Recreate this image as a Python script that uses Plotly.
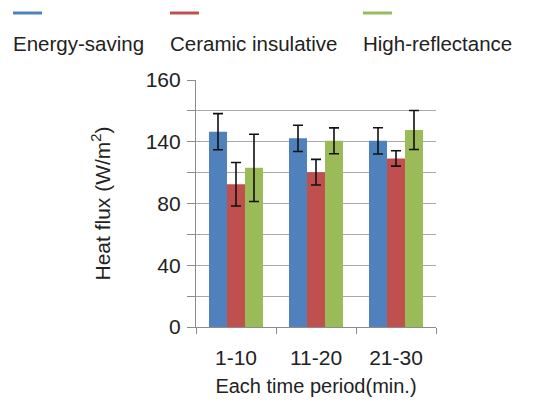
import plotly.graph_objects as go

categories = ["1-10", "11-20", "21-30"]
series_names = ["Energy-saving", "Ceramic insulative", "High-reflectance"]
energy_saving = [126.5, 122.2, 120.6]
ceramic_insulative = [92.5, 100.3, 109.2]
high_reflectance = [103.1, 120.6, 127.6]
energy_saving_err = [11.7, 8.5, 8.5]
ceramic_insulative_err = [14.1, 8.3, 5.0]
high_reflectance_err = [21.8, 8.4, 12.6]
y_tick_values = [0, 20, 40, 60, 80, 100, 120, 140, 160]
y_tick_labels = ["0", "", "40", "", "80", "", "140", "", "160"]

colors = ["#4F81BD", "#C0504D", "#9BBB59"]
values = [energy_saving, ceramic_insulative, high_reflectance]
errors = [energy_saving_err, ceramic_insulative_err, high_reflectance_err]
FONT = "Liberation Sans, Arial, sans-serif"

W, H = 546, 406
ML, MR, MT, MB = 196, 110, 80, 79
PW, PH = W - ML - MR, H - MT - MB


def px_x(p):
    return (p - ML) / PW


def px_y(p):
    return (H - MB - p) / PH


fig = go.Figure()
for name, vals, errs, col in zip(series_names, values, errors, colors):
    fig.add_trace(go.Bar(
        x=categories, y=vals, name=name, marker_color=col, marker_line_width=0,
        error_y=dict(type="data", array=errs, visible=True, color="#111111",
                     thickness=1.6, width=5),
        showlegend=False,
    ))

# Legend drawn as a swatch line above each label
legend_left_px = [13, 170, 363]
for name, col, lx in zip(series_names, colors, legend_left_px):
    fig.add_shape(type="line", xref="paper", yref="paper",
                  x0=px_x(lx), x1=px_x(lx + 29), y0=px_y(13), y1=px_y(13),
                  line=dict(color=col, width=3))
    fig.add_annotation(text=name, xref="paper", yref="paper",
                       x=px_x(lx - 2), y=px_y(43),
                       xanchor="left", yanchor="middle", showarrow=False,
                       font=dict(size=20.5, color="#222222", family=FONT))

fig.update_layout(
    width=W, height=H,
    margin=dict(l=ML, r=MR, t=MT, b=MB, autoexpand=False),
    paper_bgcolor="white", plot_bgcolor="white",
    barmode="group", bargap=0.325, bargroupgap=0,
    font=dict(family=FONT, color="#222222", size=20),
)
fig.update_xaxes(
    showline=True, linecolor="#8c8c8c", linewidth=1.2,
    ticks="outside", tickson="boundaries", ticklen=6, tickcolor="#8c8c8c",
    showgrid=False, tickfont=dict(size=21), automargin=False,
    ticklabelstandoff=12,
    title=dict(text="Each time period(min.)", font=dict(size=20), standoff=10),
)
fig.update_yaxes(
    range=[0, 160], tickvals=y_tick_values, ticktext=y_tick_labels,
    showline=True, linecolor="#8c8c8c", linewidth=1.2,
    ticks="outside", ticklen=8, tickcolor="#8c8c8c",
    showgrid=True, gridcolor="#a8a8a8", gridwidth=1.2,
    zeroline=False, tickfont=dict(size=21), automargin=False,
    ticklabelstandoff=2,
    title=dict(text="Heat flux (W/m<sup>2</sup>)", font=dict(size=21), standoff=29),
)
fig.write_html("out.html", config={"displayModeBar": False},
               post_script="document.body.style.margin='0';document.body.style.padding='0';")
